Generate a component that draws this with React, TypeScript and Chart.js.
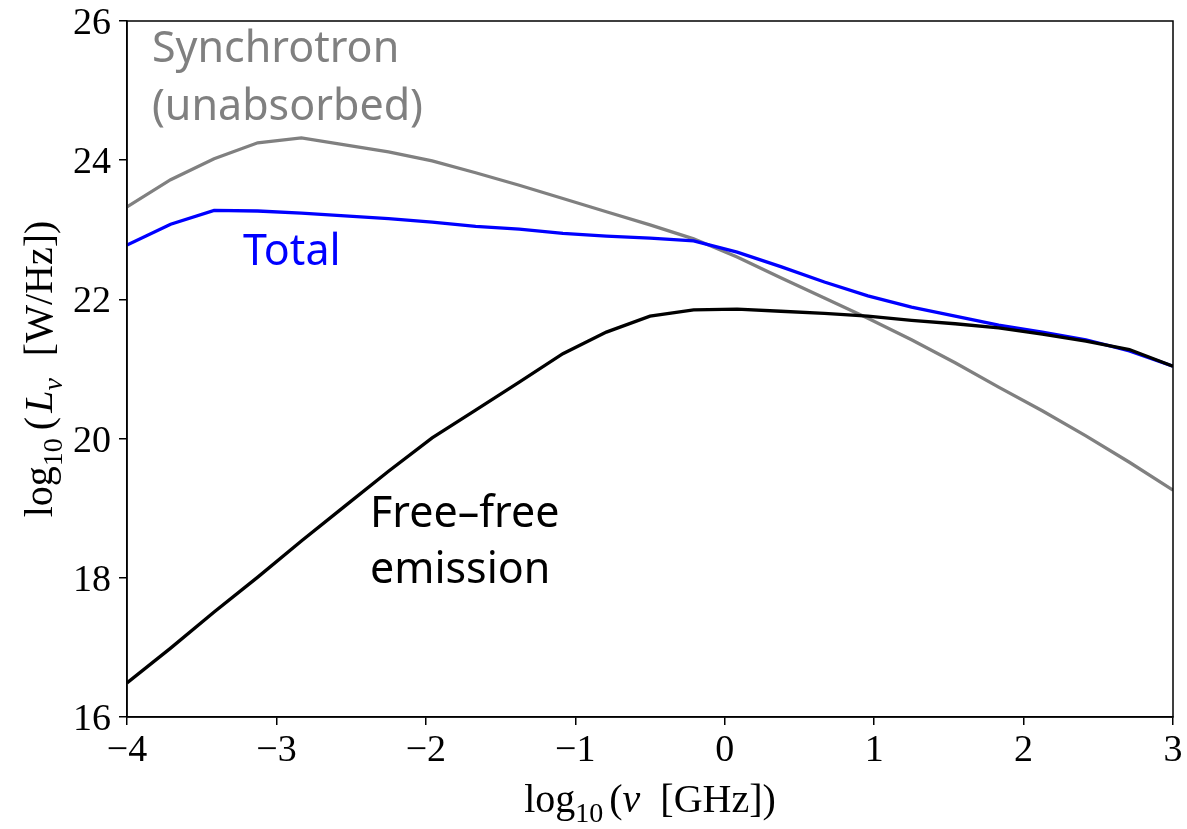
import React, { useEffect, useRef } from "react";
import { Chart, registerables } from "chart.js";

Chart.register(...registerables);

// log10 of frequency in GHz (sample grid)
const logNu: number[] = [
  -4.0, -3.708, -3.417, -3.125, -2.833, -2.542, -2.25, -1.958, -1.667, -1.375,
  -1.083, -0.792, -0.5, -0.208, 0.083, 0.375, 0.667, 0.958, 1.25, 1.542,
  1.833, 2.125, 2.417, 2.708, 3.0,
];

// log10 L_nu [W/Hz]
const synchrotron: number[] = [
  23.33, 23.72, 24.02, 24.25, 24.32, 24.22, 24.12, 23.99, 23.82, 23.64,
  23.45, 23.26, 23.07, 22.87, 22.61, 22.31, 22.02, 21.73, 21.42, 21.09,
  20.74, 20.4, 20.04, 19.66, 19.26,
];

const total: number[] = [
  22.78, 23.08, 23.28, 23.27, 23.24, 23.2, 23.16, 23.11, 23.05, 23.01,
  22.95, 22.91, 22.88, 22.84, 22.68, 22.47, 22.25, 22.05, 21.89, 21.76,
  21.63, 21.53, 21.42, 21.26, 21.04,
];

const freeFree: number[] = [
  16.49, 16.99, 17.51, 18.01, 18.53, 19.03, 19.53, 20.01, 20.41, 20.81,
  21.22, 21.53, 21.76, 21.85, 21.86, 21.83, 21.8, 21.76, 21.7, 21.65,
  21.59, 21.5, 21.4, 21.28, 21.04,
];

const xTicks: number[] = [-4, -3, -2, -1, 0, 1, 2, 3];
const yTicks: number[] = [16, 18, 20, 22, 24, 26];

const SERIF = "'Liberation Serif', 'DejaVu Serif', serif";
const SANS = "'Noto Sans', 'Open Sans', sans-serif";

type Part = { t: string; sub?: boolean; italic?: boolean; gap?: number };

function drawMath(ctx: CanvasRenderingContext2D, parts: Part[], size: number) {
  // measures the run, then draws it centred on the current origin
  const fontFor = (p: Part) =>
    `${p.italic ? "italic " : ""}${p.sub ? Math.round(size * 0.7) : size}px ${SERIF}`;
  let w = 0;
  const widths = parts.map((p) => {
    ctx.font = fontFor(p);
    const m = ctx.measureText(p.t).width + (p.gap || 0);
    w += m;
    return m;
  });
  let x = -w / 2;
  ctx.textBaseline = "alphabetic";
  ctx.textAlign = "left";
  parts.forEach((p, i) => {
    ctx.font = fontFor(p);
    ctx.fillText(p.t, x, p.sub ? size * 0.24 : 0);
    x += widths[i];
  });
}

const fmt = (v: number) => (v < 0 ? "\u2212" + Math.abs(v) : String(v));

const decorations = {
  id: "decorations",
  afterDatasetsDraw(chart: any) {
    const { ctx, chartArea } = chart;
    const { left, right, top, bottom } = chartArea;
    const xs = chart.scales.x;
    const ys = chart.scales.y;
    ctx.save();
    ctx.strokeStyle = "#000";
    ctx.lineWidth = 1.5;
    ctx.strokeRect(left, top, right - left, bottom - top);

    // tick labels
    ctx.fillStyle = "#000";
    ctx.font = `38px ${SERIF}`;
    ctx.textBaseline = "alphabetic";
    ctx.textAlign = "center";
    xTicks.forEach((v) => {
      ctx.fillText(fmt(v), xs.getPixelForValue(v), bottom + 44);
    });
    ctx.textAlign = "right";
    yTicks.forEach((v) => {
      ctx.fillText(fmt(v), left - 16, ys.getPixelForValue(v) + 13);
    });

    // curve annotations
    ctx.font = `43px ${SANS}`;
    ctx.textAlign = "left";
    ctx.fillStyle = "#808080";
    ctx.fillText("Synchrotron", xs.getPixelForValue(-3.833), ys.getPixelForValue(25.41));
    ctx.fillText("(unabsorbed)", xs.getPixelForValue(-3.833), ys.getPixelForValue(24.58));
    ctx.fillStyle = "#0000ff";
    ctx.fillText("Total", xs.getPixelForValue(-3.224), ys.getPixelForValue(22.49));
    ctx.fillStyle = "#000";
    ctx.fillText("Free\u2013free", xs.getPixelForValue(-2.374), ys.getPixelForValue(18.73));
    ctx.fillText("emission", xs.getPixelForValue(-2.374), ys.getPixelForValue(17.93));

    // axis titles
    ctx.save();
    ctx.translate((left + right) / 2, 812);
    drawMath(
      ctx,
      [
        { t: "log" },
        { t: "10", sub: true, gap: 6 },
        { t: "(" },
        { t: "ν", italic: true, gap: 20 },
        { t: "[GHz])" },
      ],
      40
    );
    ctx.restore();
    ctx.save();
    ctx.translate(52, (top + bottom) / 2);
    ctx.rotate(-Math.PI / 2);
    drawMath(
      ctx,
      [
        { t: "log" },
        { t: "10", sub: true, gap: 8 },
        { t: "(", gap: 4 },
        { t: "L", italic: true },
        { t: "ν", italic: true, sub: true, gap: 22 },
        { t: "[W/Hz])" },
      ],
      40
    );
    ctx.restore();
    ctx.restore();
  },
};

export default function App() {
  const ref = useRef<HTMLCanvasElement | null>(null);
  useEffect(() => {
    if (!ref.current) return;
    const series = (vals: number[]) => logNu.map((x, i) => ({ x, y: vals[i] }));
    const line = { borderWidth: 3.3, pointRadius: 0, tension: 0 };
    const chart = new Chart(ref.current, {
      type: "line",
      data: {
        datasets: [
          { label: "Free-free emission", data: series(freeFree), borderColor: "#000000", ...line },
          { label: "Total", data: series(total), borderColor: "#0000ff", ...line },
          { label: "Synchrotron (unabsorbed)", data: series(synchrotron), borderColor: "#808080", ...line },
        ],
      },
      options: {
        animation: false,
        responsive: false,
        events: [],
        layout: { padding: { left: 0, top: 21, right: 14, bottom: 0 } },
        plugins: { legend: { display: false }, tooltip: { enabled: false } },
        scales: {
          x: {
            type: "linear",
            min: -4,
            max: 3,
            afterBuildTicks: (s: any) => {
              s.ticks = xTicks.map((v) => ({ value: v }));
            },
            afterFit: (s: any) => {
              s.height = 112;
            },
            ticks: { display: false },
            grid: { drawOnChartArea: false, drawTicks: true, tickLength: 8, color: "#000", lineWidth: 1.5 },
            border: { display: true, color: "#000", width: 1.5 },
          },
          y: {
            min: 16,
            max: 26,
            afterBuildTicks: (s: any) => {
              s.ticks = yTicks.map((v) => ({ value: v }));
            },
            afterFit: (s: any) => {
              s.width = 127;
            },
            ticks: { display: false },
            grid: { drawOnChartArea: false, drawTicks: true, tickLength: 8, color: "#000", lineWidth: 1.5 },
            border: { display: true, color: "#000", width: 1.5 },
          },
        },
      },
      plugins: [decorations],
    });
    return () => chart.destroy();
  }, []);
  return (
    <div style={{ position: "fixed", left: 0, top: 0, width: 1187, height: 829, background: "#fff" }}>
      <canvas ref={ref} width={1187} height={829} style={{ display: "block" }} />
    </div>
  );
}
